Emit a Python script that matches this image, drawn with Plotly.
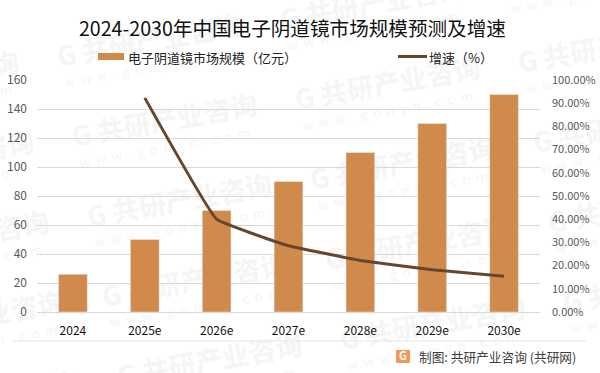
import plotly.graph_objects as go

title = "2024-2030年中国电子阴道镜市场规模预测及增速"
categories = ["2024", "2025e", "2026e", "2027e", "2028e", "2029e", "2030e"]
market_size = [26, 50, 70, 90, 110, 130, 150]
growth = [None, 92.3, 40.0, 28.57, 22.22, 18.18, 15.38]
bar_name = "电子阴道镜市场规模（亿元）"
line_name = "增速（%）"
source = "制图: 共研产业咨询 (共研网)"
wm_main = "G 共研产业咨询"
wm_sub = "w  w  w  .  g  o  n  y  n  .  c  o  m"

W, H = 600, 373
L, R, T, B = 37, 60, 80, 61
CJK = "Noto Sans CJK SC"
BAR = "#D08B4C"
LINE = "#68462B"


def px(x):
    return (x - L) / (W - L - R)


def py(y):
    return (H - B - y) / (H - T - B)


fig = go.Figure()
fig.add_bar(x=categories, y=market_size, name=bar_name, marker_color=BAR, width=0.4, yaxis="y")
fig.add_scatter(x=categories, y=growth, name=line_name, mode="lines", yaxis="y2",
                line=dict(color=LINE, width=3, shape="spline", smoothing=0.25))

shapes = []
# Watermark grid, below gridlines and traces
for col, (cx, cy) in enumerate([(-73, 80), (150, 43), (373, 6), (596, -31)]):
    for row in range(5):
        x = cx + row * 15
        y = cy + row * 80
        for text, dy, size, weight in [(wm_main, 0, 27, "bold"), (wm_sub, 26, 13, "normal")]:
            shapes.append(dict(
                type="rect", xref="paper", yref="paper", layer="below",
                x0=px(x - 100), x1=px(x + 100), y0=py(y + dy + 15), y1=py(y + dy - 15),
                line=dict(width=0), fillcolor="rgba(0,0,0,0)",
                label=dict(text=text, textangle=-10, textposition="middle center",
                           font=dict(family=CJK, size=size, color="#f5f5f5", weight=weight)),
            ))
# Footer rule
shapes.append(dict(type="line", xref="paper", yref="paper", x0=px(13), x1=px(586), y0=py(341), y1=py(341),
                   line=dict(color="#e6e6e6", width=1)))
# Logo
shapes.append(dict(type="rect", xref="paper", yref="paper", x0=px(396), x1=px(410), y0=py(363), y1=py(350),
                   line=dict(width=0), fillcolor="#F2995A",
                   label=dict(text="G", font=dict(family=CJK, size=11, color="white", weight="bold"))))
# Legend keys
shapes.append(dict(type="rect", xref="paper", yref="paper", x0=px(98), x1=px(124), y0=py(60), y1=py(53),
                   line=dict(width=0), fillcolor=BAR))
shapes.append(dict(type="line", xref="paper", yref="paper", x0=px(398), x1=px(427), y0=py(56.5), y1=py(56.5),
                   line=dict(color=LINE, width=3)))

fig.update_layout(
    width=W, height=H, autosize=False,
    margin=dict(l=L, r=R, t=T, b=B, autoexpand=False),
    paper_bgcolor="white", plot_bgcolor="rgba(0,0,0,0)",
    font=dict(family=CJK, color="#595959", size=12),
    showlegend=False,
    xaxis=dict(type="category", range=[-0.5, 6.5], showgrid=False, showline=False, ticks="",
               tickfont=dict(size=12, color="#111111", family=CJK), automargin=False, ticklabelstandoff=10),
    yaxis=dict(range=[0, 160], dtick=20, gridcolor="#d9d9d9", gridwidth=1, zeroline=True, zerolinecolor="#d9d9d9",
               zerolinewidth=1, showline=False, ticks="", tickfont=dict(size=12, color="#595959", family=CJK),
               ticklabelstandoff=9, automargin=False),
    yaxis2=dict(range=[0, 100], dtick=10, overlaying="y", side="right", showgrid=False, zeroline=False,
                showline=False, ticks="", ticksuffix=".00%", tickfont=dict(size=11, color="#595959", family=CJK),
                ticklabelstandoff=11, automargin=False),
    shapes=shapes,
    annotations=[
        dict(text=title, xref="paper", yref="paper", x=px(292), y=py(27), xanchor="center", yanchor="middle",
             showarrow=False, font=dict(family=CJK, size=19.6, color="#111111")),
        dict(text=bar_name, xref="paper", yref="paper", x=px(126), y=py(57), xanchor="left", yanchor="middle",
             showarrow=False, font=dict(family=CJK, size=13, color="#222222")),
        dict(text=line_name, xref="paper", yref="paper", x=px(427), y=py(57), xanchor="left", yanchor="middle",
             showarrow=False, font=dict(family=CJK, size=13, color="#222222")),
        dict(text=source, xref="paper", yref="paper", x=px(417), y=py(356), xanchor="left", yanchor="middle",
             showarrow=False, font=dict(family=CJK, size=12.7, color="#404040")),
    ],
)

fig.write_html("out.html", config=dict(displayModeBar=False),
               post_script="document.body.style.margin='0';document.documentElement.style.overflow='hidden';")
